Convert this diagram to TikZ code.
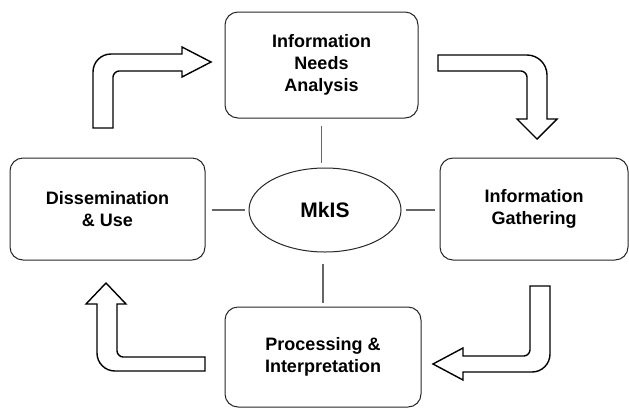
\documentclass[tikz,border=0pt]{standalone}
\usepackage{fontspec}
\setmainfont{Liberation Sans}
\usetikzlibrary{shapes.geometric,calc}
\begin{document}
\begin{tikzpicture}[x=1pt,y=-1pt,
  stagebox/.style={draw=black!85,line width=1pt,rounded corners=13pt,align=center,
    font=\fontsize{18}{22}\selectfont\bfseries,inner sep=0pt},
  hub/.style={ellipse,draw=black!85,line width=1pt,minimum width=152pt,minimum height=84pt,
    inner sep=0pt,font=\fontsize{21}{24}\selectfont\bfseries},
  link/.style={draw=black!60,line width=1.3pt},
  blockarrow/.style={draw=black,line width=1.4pt,fill=white,line join=miter}]
\useasboundingbox (0,0) rectangle (629,408);
\node[stagebox,minimum width=193pt,minimum height=106pt] (top) at (321.5,65) {Information\\Needs\\Analysis};
\node[stagebox,minimum width=195pt,minimum height=102pt] (left) at (107.5,209) {Dissemination\\\& Use};
\node[stagebox,minimum width=188pt,minimum height=102pt] (right) at (534,209) {Information\\Gathering};
\node[stagebox,minimum width=196pt,minimum height=100pt] (bottom) at (323,357) {Processing \&\\Interpretation};
\node[hub] (hub) at (325,210) {MkIS};
% connector lines
\draw[link,shorten <=7pt,shorten >=5pt] (top.south) -- (top.south |- hub.north);
\draw[link,shorten <=11pt,shorten >=4pt] (bottom.north |- hub.south) -- (bottom.north);
\draw[link,shorten <=6pt,shorten >=4pt] (left.east |- hub.west) -- (hub.west);
\draw[link,shorten <=4pt,shorten >=5pt] (hub.east) -- (right.west |- hub.east);
% block arrows
\draw[blockarrow] (93,128) -- (93,72) .. controls (93,62) and (101,54) .. (111,54)
  -- (182,54) -- (182,47) -- (211,62) -- (182,77) -- (182,71) -- (119,71)
  .. controls (116,71) and (113,74) .. (113,77) -- (113,128) -- cycle;
\draw[blockarrow] (438,55) -- (527,55) .. controls (538,55) and (547,64) .. (547,75)
  -- (547,119) -- (557,119) -- (537,139) -- (517,119) -- (527,119) -- (527,77)
  .. controls (527,74) and (524,71) .. (521,71) -- (438,71) -- cycle;
\draw[blockarrow] (530,286) -- (550,286) -- (550,354) .. controls (550,364) and (542,372) .. (532,372)
  -- (463,372) -- (463,380) -- (433,364) -- (463,348) -- (463,356) -- (524,356)
  .. controls (527,356) and (530,353) .. (530,350) -- cycle;
\draw[blockarrow] (205,371) -- (115,371) .. controls (105,371) and (97,363) .. (97,353)
  -- (97,304) -- (86,304) -- (106,283) -- (126,304) -- (117,304) -- (117,351)
  .. controls (117,354) and (120,357) .. (123,357) -- (205,357) -- cycle;
\end{tikzpicture}
\end{document}
